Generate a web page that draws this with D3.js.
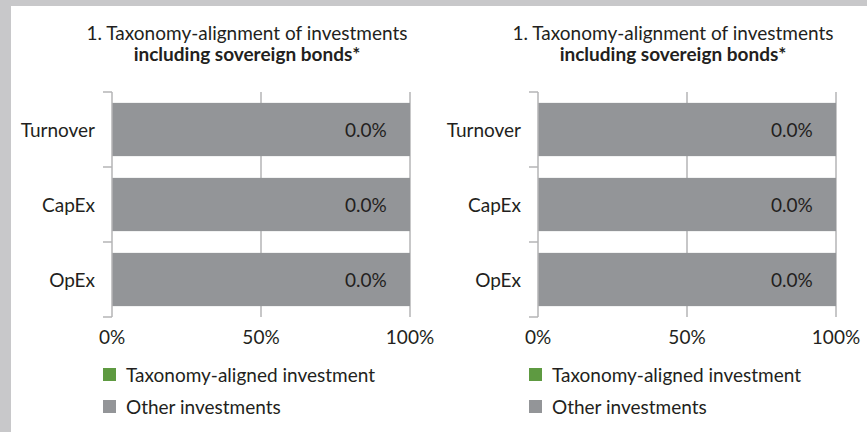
<!DOCTYPE html>
<html lang="en">
<head>
    <meta charset="utf-8" />
    <title>Taxonomy-alignment of investments</title>
    <script src="https://d3js.org/d3.v7.min.js"></script>
    <style>
        body {
            margin: 0;
            padding: 0;
            background: #c8c8ca;
        }
        svg {
            display: block;
        }
    </style>
</head>
<body>
<svg id="chart"></svg>
<script>
    var w = 867;
    var h = 432;

    // Data
    var categories = ["Turnover", "CapEx", "OpEx"];
    var alignedValues = [0, 0, 0];
    var otherValues = [100, 100, 100];
    var tickValues = [0, 50, 100];
    var titleLine1 = "1. Taxonomy-alignment of investments";
    var titleLine2 = "including sovereign bonds*";
    var legendLabels = ["Taxonomy-aligned investment", "Other investments"];
    var colors = ["#5e9a41", "#939598"];

    var panels = [{ x0: 112, x1: 410 }, { x0: 538, x1: 836 }];

    var svg = d3.select("#chart")
        .attr("width", w)
        .attr("height", h);

    // white panel with grey frame at top and left
    svg.append("rect")
        .attr("x", 11)
        .attr("y", 6)
        .attr("width", w - 11)
        .attr("height", h - 6)
        .attr("fill", "white");

    var font = "Lato, 'Open Sans', sans-serif";
    var fontSize = "19px";
    var textColor = "#231f20";
    var lineColor = "#b4b4b6";
    var axisTop = 92, axisBottom = 317;

    panels.forEach(function(p) {
        var g = svg.append("g");

        var xScale = d3.scaleLinear()
            .domain([0, 100])
            .range([p.x0, p.x1]);

        var yScale = d3.scaleBand()
            .domain(categories)
            .range([axisTop, axisBottom])
            .paddingInner(0.29)
            .paddingOuter(0.145);

        // title, two lines
        var cx = (p.x0 + p.x1) / 2 - 14;
        g.append("text")
            .attr("x", cx)
            .attr("y", 40)
            .attr("text-anchor", "middle")
            .attr("font-family", font)
            .attr("font-size", fontSize)
            .attr("fill", textColor)
            .text(titleLine1);
        g.append("text")
            .attr("x", cx)
            .attr("y", 61)
            .attr("text-anchor", "middle")
            .attr("font-family", font)
            .attr("font-size", fontSize)
            .attr("font-weight", "bold")
            .attr("fill", textColor)
            .text(titleLine2);

        // gridlines
        g.selectAll(".grid")
            .data(tickValues.slice(1))
            .enter().append("line")
            .attr("x1", function(d) { return xScale(d); })
            .attr("x2", function(d) { return xScale(d); })
            .attr("y1", axisTop)
            .attr("y2", axisBottom)
            .attr("stroke", lineColor)
            .attr("stroke-width", 1.5);

        // stacked bars
        var rows = categories.map(function(c, i) {
            return { cat: c, aligned: alignedValues[i], other: otherValues[i] };
        });

        g.selectAll(".other")
            .data(rows)
            .enter().append("rect")
            .attr("x", function(d) { return xScale(d.aligned); })
            .attr("y", function(d) { return yScale(d.cat); })
            .attr("width", function(d) { return xScale(d.aligned + d.other) - xScale(d.aligned); })
            .attr("height", yScale.bandwidth())
            .attr("fill", colors[1]);

        g.selectAll(".aligned")
            .data(rows)
            .enter().append("rect")
            .attr("x", xScale(0))
            .attr("y", function(d) { return yScale(d.cat); })
            .attr("width", function(d) { return xScale(d.aligned) - xScale(0); })
            .attr("height", yScale.bandwidth())
            .attr("fill", colors[0]);

        // value labels
        g.selectAll(".val")
            .data(rows)
            .enter().append("text")
            .attr("x", xScale(92.2))
            .attr("y", function(d) { return yScale(d.cat) + yScale.bandwidth() / 2 + 7; })
            .attr("text-anchor", "end")
            .attr("font-family", font)
            .attr("font-size", fontSize)
            .attr("fill", textColor)
            .text(function(d) { return d.aligned.toFixed(1) + "%"; });

        // y axis line and ticks at band boundaries
        g.append("line")
            .attr("x1", xScale(0))
            .attr("x2", xScale(0))
            .attr("y1", axisTop)
            .attr("y2", axisBottom)
            .attr("stroke", lineColor)
            .attr("stroke-width", 1.5);

        var step = yScale.step();
        var bounds = d3.range(categories.length + 1).map(function(i) {
            return axisTop + i * step;
        });
        g.selectAll(".ytick")
            .data(bounds)
            .enter().append("line")
            .attr("x1", xScale(0) - 9)
            .attr("x2", xScale(0))
            .attr("y1", function(d) { return d; })
            .attr("y2", function(d) { return d; })
            .attr("stroke", lineColor)
            .attr("stroke-width", 1.5);

        // category labels
        g.selectAll(".cat")
            .data(categories)
            .enter().append("text")
            .attr("x", xScale(0) - 17)
            .attr("y", function(d) { return yScale(d) + yScale.bandwidth() / 2 + 7; })
            .attr("text-anchor", "end")
            .attr("font-family", font)
            .attr("font-size", fontSize)
            .attr("fill", textColor)
            .text(function(d) { return d; });

        // x tick labels
        g.selectAll(".xtick")
            .data(tickValues)
            .enter().append("text")
            .attr("x", function(d) { return xScale(d); })
            .attr("y", 344)
            .attr("text-anchor", "middle")
            .attr("font-family", font)
            .attr("font-size", fontSize)
            .attr("fill", textColor)
            .text(function(d) { return d + "%"; });

        // legend
        var legend = g.selectAll(".legend")
            .data(legendLabels)
            .enter().append("g")
            .attr("transform", function(d, i) {
                return "translate(" + (xScale(0) - 9) + "," + (368 + i * 32) + ")";
            });
        legend.append("rect")
            .attr("width", 13)
            .attr("height", 13)
            .attr("fill", function(d, i) { return colors[i]; });
        legend.append("text")
            .attr("x", 23)
            .attr("y", 14)
            .attr("font-family", font)
            .attr("font-size", fontSize)
            .attr("fill", textColor)
            .text(function(d) { return d; });
    });
</script>
</body>
</html>
